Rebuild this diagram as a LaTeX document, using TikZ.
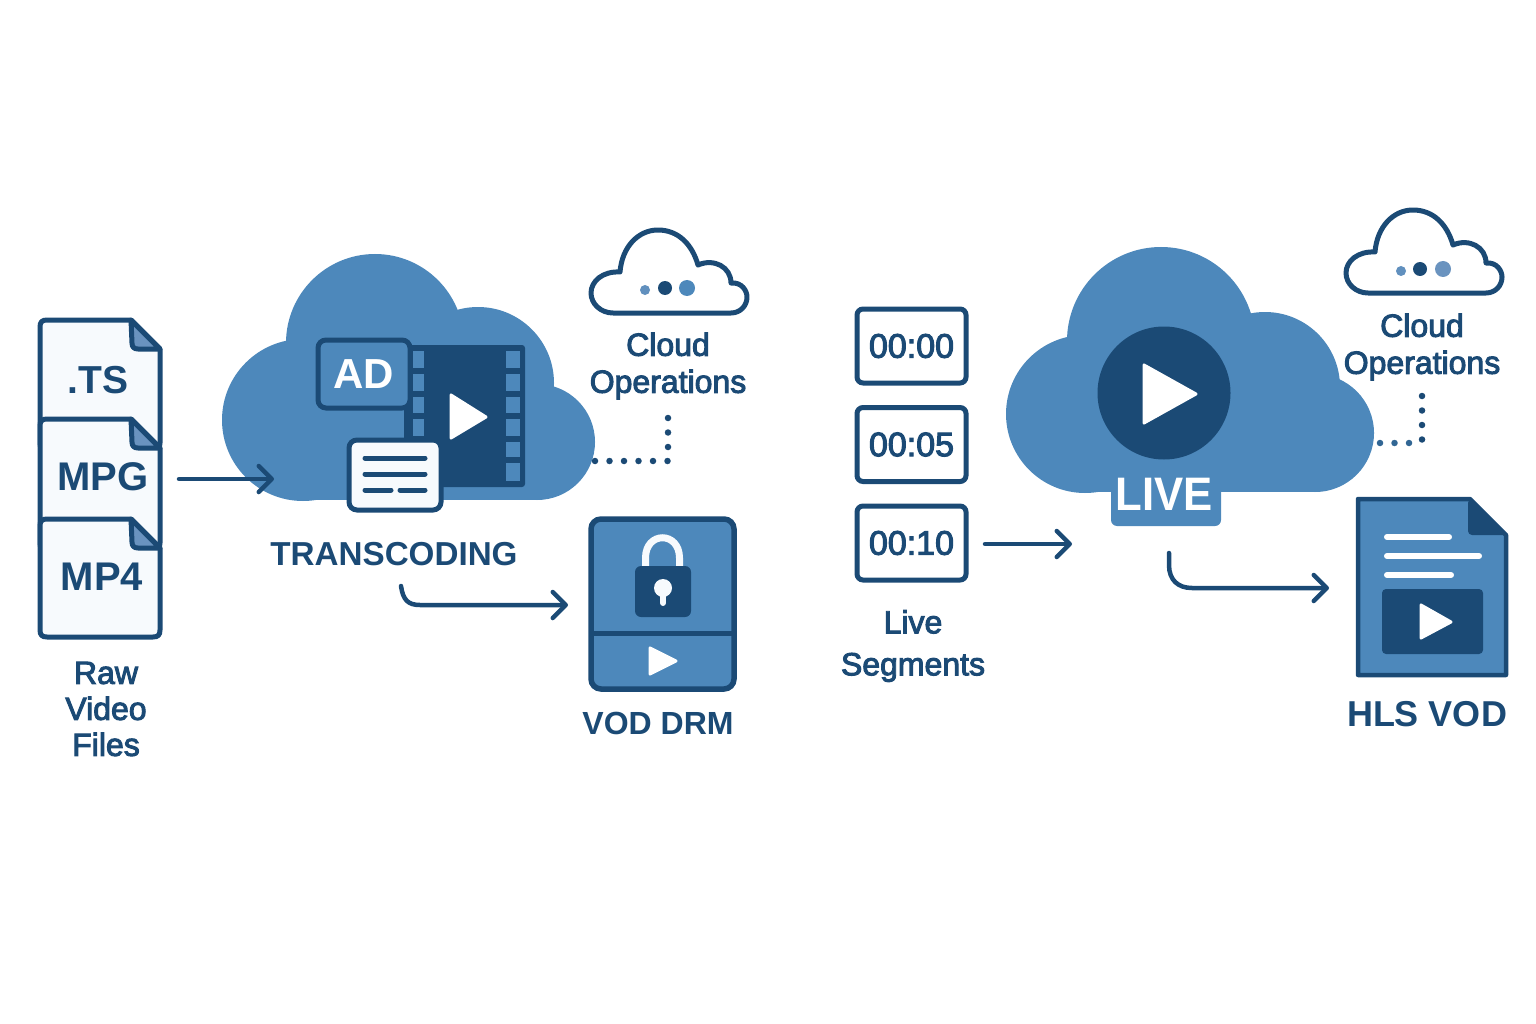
\documentclass[tikz,border=0pt]{standalone}
\usepackage{fontspec}
\setmainfont{Liberation Sans}
\newfontfamily\medfont{Liberation Sans}[FakeBold=3]
\usetikzlibrary{arrows.meta}
\definecolor{dk}{HTML}{1B4A75}
\definecolor{md}{HTML}{4D88BB}
\definecolor{lt}{HTML}{6A93BF}
\definecolor{pap}{HTML}{F7FAFD}
\tikzset{
  flow/.style={draw=dk,line width=4.5pt,line cap=round,-{Straight Barb[length=13pt,width=26pt,line width=4.5pt,round]}},
  dots/.style={draw=dk,line width=6.5pt,line cap=round,dash pattern=on 0pt off 14.5pt},
  filebox/.style={draw=dk,fill=pap,line width=5pt,line join=round},
  foldbox/.style={draw=dk,fill=lt,line width=5pt,line join=round},
  playtri/.style={fill=white,draw=white,line width=3pt,line join=round},
  txt/.style={text=dk,inner sep=0pt,align=center,font=\medfont\fontsize{#1}{#1}\selectfont},
  bold/.style={text=dk,inner sep=0pt,font=\bfseries\fontsize{#1}{#1}\selectfont},
  stamp/.style={draw=dk,fill=white,line width=5pt,rounded corners=6pt,minimum width=109pt,minimum height=74pt,inner sep=0pt,text=dk,font=\medfont\fontsize{34}{34}\selectfont},
  opscloud/.style={draw=dk,fill=white,line width=5pt,line join=round},
  whitebar/.style={draw=white,line width=6pt,line cap=round},
  capbar/.style={draw=dk,line width=5pt,line cap=round},
}
\begin{document}
\begin{tikzpicture}[x=1pt,y=-1pt]
\useasboundingbox (0,0) rectangle (1536,1024);
% ---------- raw files
\foreach \yy/\bot in {320/450,419/550,519/637}{
  \draw[filebox] (47,\yy) -- (131,\yy) -- (160,{\yy+29}) -- (160,{\bot-7})
     .. controls (160,{\bot-2}) and (158,\bot) .. (153,\bot) -- (47,\bot)
     .. controls (42,\bot) and (40,{\bot-2}) .. (40,{\bot-7}) -- (40,{\yy+7})
     .. controls (40,{\yy+2}) and (42,\yy) .. (47,\yy) -- cycle;
  \draw[foldbox] (131,\yy) -- (160,{\yy+29}) -- (138,{\yy+29})
     .. controls (134,{\yy+29}) and (132,{\yy+27}) .. (132,{\yy+23}) -- cycle;
}
\node[bold=39] (ts) at (98,380) {.TS};
\node[bold=40] (mpg) at (103,477) {MPG};
\node[bold=40] (mp4) at (102,577) {MP4};
\node[txt=32] (raw) at (106,709) {Raw\\[4pt]Video\\[4pt]Files};
% ---------- transcoding cloud
\begin{scope}[md]
\fill (375,343) circle (89);
\fill (303,420) circle (81);
\fill (478,383) circle (76);
\fill (537,442) circle (58);
\fill (303,400) rectangle (537,500);
\end{scope}
\fill[dk,rounded corners=3pt] (404,345) rectangle (525,487);
\foreach \a/\b in {351/368,374/391,397/413,419/436}{\fill[md] (413,\a) rectangle (424,\b);}
\foreach \a/\b in {351/368,374/391,397/413,419/436,442/457,463/481}{\fill[md] (506,\a) rectangle (520,\b);}
\draw[playtri] (451,395) -- (486,417) -- (451,438) -- cycle;
\node[draw=dk,fill=md,line width=5pt,rounded corners=8pt,minimum width=92pt,minimum height=68pt,text=white,font=\bfseries\fontsize{42}{42}\selectfont,inner sep=0pt] (ad) at (364,374) {AD};
\node[draw=dk,fill=pap,line width=5pt,rounded corners=8pt,minimum width=92pt,minimum height=70pt] (capt) at (395,475) {};
\draw[capbar] (365,458) -- (425,458);
\draw[capbar] (365,474) -- (425,474);
\draw[capbar] (365,490) -- (391,490);
\draw[capbar] (400,490) -- (425,490);
\node[bold=33.2] (trans) at (394,554) {TRANSCODING};
% ---------- ops cloud helper
\def\opsshape{(1375,252) .. controls (1377,227) and (1393,210) .. (1413,210) .. controls (1433,210) and (1447,224) .. (1453,245) .. controls (1469,238) and (1486,247) .. (1486,263) .. controls (1497,262) and (1502,271) .. (1502,277) .. controls (1502,286) and (1495,293) .. (1486,293) -- (1368,293) .. controls (1356,293) and (1346,284) .. (1346,273) .. controls (1346,261) and (1358,251) .. (1375,252) -- cycle}
\draw[opscloud,shift={(-755,20)}] \opsshape;
\fill[lt!70!md] (645,290) circle (5);
\fill[dk] (665,288) circle (7);
\fill[md] (687,288) circle (8);
\node[txt=32] (ops1) at (668,366) {Cloud\\[5pt]Operations};
\coordinate (d1a) at (595,461);
\coordinate (d1b) at (668,461);
\coordinate (d1c) at (668,413);
\draw[dots] (d1a) -- (d1b) -- (d1c);
% ---------- arrows left
\coordinate (a1s) at (179,479);
\coordinate (a1e) at (274,479);
\draw[flow] (a1s) -- (a1e);
\coordinate (a2s) at (401,586);
\coordinate (a2e) at (568,605);
\draw[flow] (a2s) .. controls (403,600) and (408,605) .. (420,605) -- (a2e);
% ---------- VOD DRM
\node[draw=dk,fill=md,line width=5.5pt,rounded corners=10pt,minimum width=143pt,minimum height=170pt,inner sep=0pt] (vod) at (662.5,604) {};
\draw[dk,line width=5pt] (591,633) -- (734,633);
\draw[pap,line width=7pt] (645.5,568) -- (645.5,558) .. controls (645.5,531) and (679.5,531) .. (679.5,558) -- (679.5,568);
\fill[dk,rounded corners=6pt] (635,566) rectangle (691,617);
\fill[pap] (663,588) circle (9);
\draw[pap,line width=6pt,line cap=round] (663,590) -- (663,603);
\draw[playtri] (650,648) -- (676,661) -- (650,674) -- cycle;
\node[bold=32] (vodl) at (658,723) {VOD DRM};
% ---------- live segments
\node[stamp] (t0) at (911.5,346) {00:00};
\node[stamp] (t1) at (911.5,444.5) {00:05};
\node[stamp] (t2) at (911.5,543) {00:10};
\node[txt=32] (seg) at (913,646) {Live\hspace{14pt}\\[10pt]Segments};
\coordinate (a3s) at (985,544);
\coordinate (a3e) at (1072,544);
\draw[flow] (a3s) -- (a3e);
% ---------- live cloud
\begin{scope}[md]
\fill (1161,341) circle (94);
\fill (1085,414) circle (79);
\fill (1265,387) circle (75);
\fill (1315,433) circle (59);
\fill (1085,400) rectangle (1315,492);
\fill[rounded corners=6pt] (1111,485) rectangle (1221,526);
\end{scope}
\fill[dk] (1164,393) circle (66.5);
\draw[playtri] (1144,365) -- (1196,394) -- (1144,423) -- cycle;
\node[text=white,inner sep=0pt,font=\bfseries\fontsize{47}{47}\selectfont,xscale=.93] (live) at (1164,494) {LIVE};
% ---------- ops cloud 2
\draw[opscloud] \opsshape;
\fill[lt!70!md] (1401,271) circle (5);
\fill[dk] (1420,269) circle (7);
\fill[lt] (1443,269) circle (8);
\node[txt=32] (ops2) at (1422,347) {Cloud\\[5pt]Operations};
\coordinate (d2a) at (1380,443);
\coordinate (d2b) at (1422,443);
\coordinate (d2c) at (1422,396);
\draw[dots,draw=dk!55!md] (d2a) -- (d2b);
\draw[dots] (d2c) -- (d2b);
\coordinate (a4s) at (1169,553);
\coordinate (a4e) at (1329,588);
\draw[flow] (a4s) -- (1169,565) .. controls (1169,580) and (1178,588) .. (1192,588) -- (a4e);
% ---------- HLS doc
\draw[draw=dk,fill=md,line width=4.5pt,line join=round] (1470,499) -- (1506,535) -- (1506,675) -- (1358,675) -- (1358,499) -- cycle;
\fill[dk] (1468,499) -- (1470,499) -- (1506,535) [rounded corners=4pt] -- (1468,535) -- cycle;
\draw[whitebar] (1387,537) -- (1449,537);
\draw[whitebar] (1387,556) -- (1479,556);
\draw[whitebar] (1387,575) -- (1451,575);
\fill[dk,rounded corners=4pt] (1382,589) rectangle (1483,654);
\draw[playtri] (1421,605) -- (1451,622) -- (1421,638) -- cycle;
\node[bold=36] (hls) at (1427,714) {HLS VOD};
\end{tikzpicture}
\end{document}
